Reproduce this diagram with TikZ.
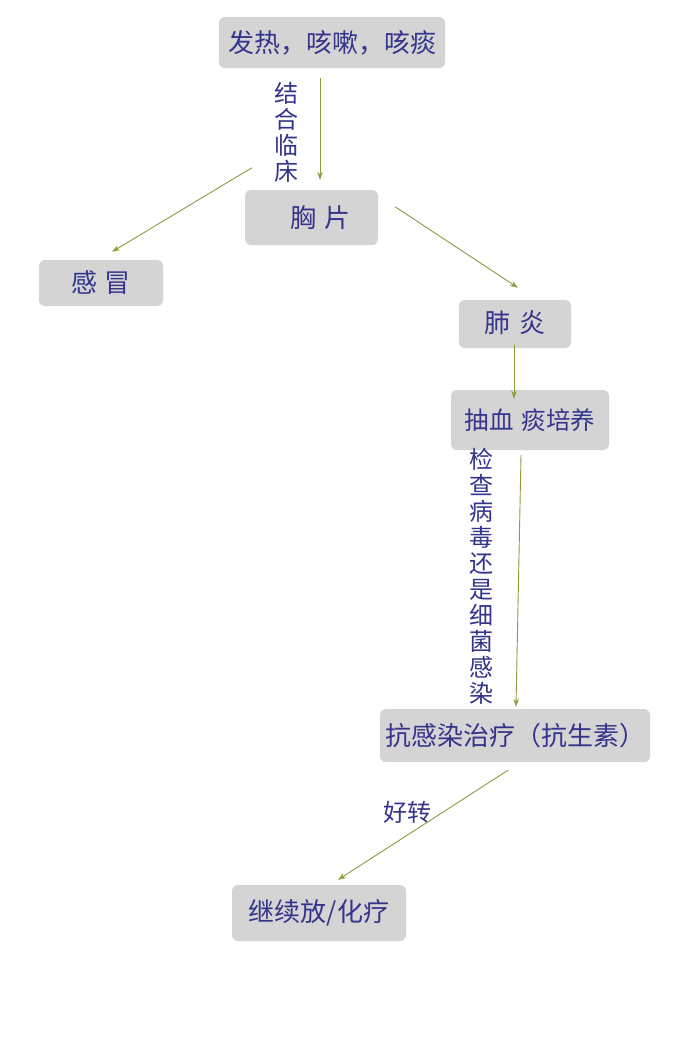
\documentclass[tikz,border=0pt]{standalone}
\usepackage{fontspec}
\setmainfont{Noto Sans CJK SC}
\usetikzlibrary{calc,arrows.meta}
\definecolor{boxgray}{RGB}{212,212,212}
\definecolor{txtblue}{RGB}{52,52,140}
\definecolor{arrgreen}{RGB}{138,158,60}
\tikzset{
  box/.style={fill=boxgray, rounded corners=6pt, inner sep=0pt, text=txtblue, font=\fontsize{26}{28}\selectfont},
  lbl/.style={text=txtblue, inner sep=0pt, align=center, font=\fontsize{24}{26}\selectfont},
  arr/.style={draw=arrgreen, line width=0.9pt, -{Stealth[length=8pt,width=5.5pt]}}
}
\begin{document}
\begin{tikzpicture}[x=1pt,y=-1pt]
\useasboundingbox[fill=white] (0,0) rectangle (700,1050);
\node[box, minimum width=226pt, minimum height=51pt] (n1) at (332,42.5) {发热，咳嗽，咳痰};
\node[box, minimum width=133pt, minimum height=55pt] (n2) at (311.5,217.5) {\hspace{18pt}胸\hspace{8pt}片};
\node[box, minimum width=124pt, minimum height=46pt] (n3) at (101,283) {感\hspace{8pt}冒};
\node[box, minimum width=112pt, minimum height=48pt] (n4) at (515,324) {\raisebox{5pt}{肺\hspace{9pt}炎}};
\node[box, minimum width=158pt, minimum height=60pt, font=\fontsize{24.5}{26}\selectfont] (n5) at (530,420) {\raisebox{2pt}{抽血\hspace{8pt}痰培养}\hspace{7pt}};
\node[box, minimum width=270pt, minimum height=53pt] (n6) at (515,735.5) {抗感染治疗（抗生素）};
\node[box, minimum width=174pt, minimum height=56pt] (n7) at (319,913) {继续放/化疗};

\node[lbl, text width=26pt] (l1) at (286,132) {结\\合\\临\\床};
\node[lbl, text width=26pt] (l2) at (481,576) {检\\查\\病\\毒\\还\\是\\细\\菌\\感\\染};
\node[lbl] (l3) at (407,812) {好转};

\draw[arr] ($(n1.south)+(-12,10)$) -- ($(n2.north)+(8.5,-10)$);
\draw[arr] ($(n2.north west)+(7,-22)$) -- ($(n3.north)+(11,-8)$);
\draw[arr] ($(n2.north east)+(17,17)$) -- ($(n4.north)+(3,-12)$);
\draw[arr] ($(n4.south)+(-1,-3)$) -- ($(n5.north)+(-16,9)$);
\draw[arr] ($(n5.south)+(-9,5)$) -- ($(n6.north)+(1,-2)$);
\draw[arr] ($(n6.south)+(-7,8)$) -- ($(n7.north)+(19,-5)$);
\end{tikzpicture}
\end{document}
